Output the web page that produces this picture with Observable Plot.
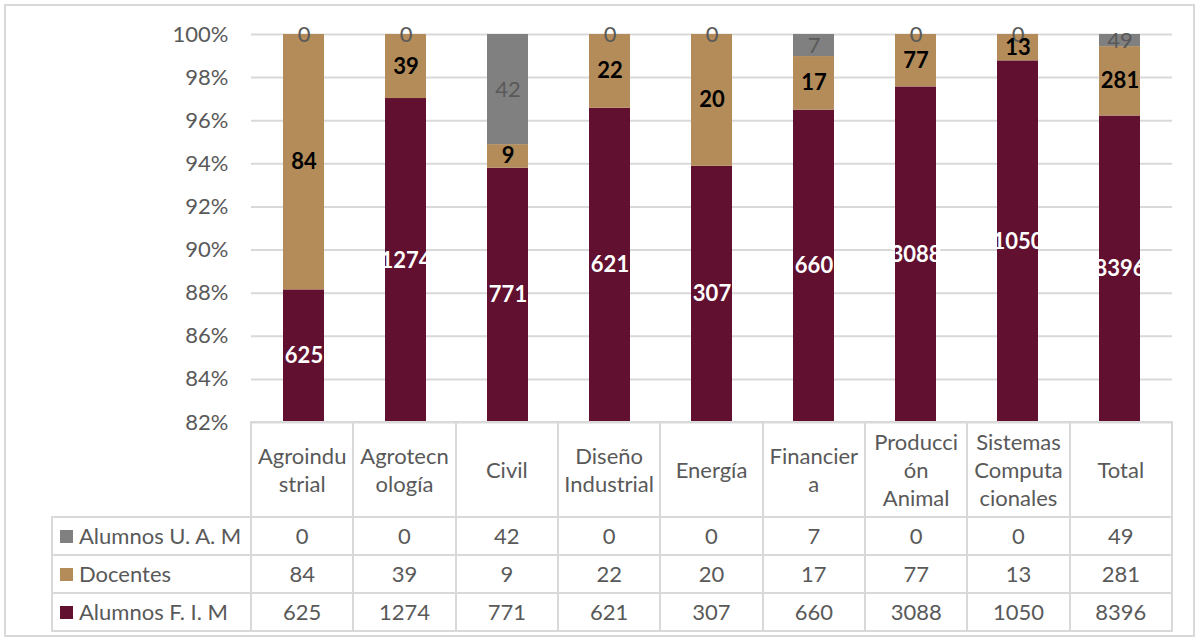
<!DOCTYPE html>
<html><head><meta charset="utf-8">
<script src="https://cdn.jsdelivr.net/npm/d3@7"></script>
<script src="https://cdn.jsdelivr.net/npm/@observablehq/plot@0.6"></script>
<style>
body{margin:0;background:#fff;font-family:Lato,"Open Sans",sans-serif;}
#wrap{position:relative;width:1199px;height:641px;overflow:hidden;background:#fff;}
#frame{position:absolute;left:4px;top:4px;width:1191px;height:633px;border:2px solid #d9d9d9;box-sizing:border-box;}
#chart{position:absolute;left:0;top:0;}
.cell{position:absolute;box-sizing:border-box;border:2px solid #d9d9d9;display:flex;align-items:center;justify-content:center;text-align:center;color:#595959;font-size:22px;line-height:28px;white-space:pre;}
.leg{justify-content:flex-start;padding-left:7px;}
.sw{display:inline-block;width:13px;height:13px;margin-right:6px;}
</style>
</head><body>
<div id="wrap"><div id="frame"></div><div id="chart"></div></div>
<script>
const categories = ["Agroindustrial","Agrotecnología","Civil","Diseño Industrial","Energía","Financiera","Producción Animal","Sistemas Computacionales","Total"];
const headerLabels = ["Agroindu\nstrial","Agrotecn\nología","Civil","Diseño\nIndustrial","Energía","Financier\na","Producci\nón\nAnimal","Sistemas\nComputa\ncionales","Total"];
const seriesNames = ["Alumnos U. A. M","Docentes","Alumnos F. I. M"];
const alumnosUAM = [0,0,42,0,0,7,0,0,49];
const docentes = [84,39,9,22,20,17,77,13,281];
const alumnosFIM = [625,1274,771,621,307,660,3088,1050,8396];
const yTicks = [0.82,0.84,0.86,0.88,0.90,0.92,0.94,0.96,0.98,1.00];
const colors = {"Alumnos U. A. M":"#808080","Docentes":"#b38c5a","Alumnos F. I. M":"#611030"};
const labelColors = {"Alumnos U. A. M":"#595959","Docentes":"#000000","Alumnos F. I. M":"#ffffff"};
const labelWeights = {"Alumnos U. A. M":"normal","Docentes":"bold","Alumnos F. I. M":"bold"};

(function(){
const yMin = yTicks[0], yMax = yTicks[yTicks.length-1];
const rows = [];
categories.forEach((c,i)=>{
  const vals = {"Alumnos F. I. M":alumnosFIM[i],"Docentes":docentes[i],"Alumnos U. A. M":alumnosUAM[i]};
  const total = alumnosFIM[i]+docentes[i]+alumnosUAM[i];
  let acc = 0;
  for (const s of ["Alumnos F. I. M","Docentes","Alumnos U. A. M"]) {
    const y1 = acc/total; acc += vals[s]; const y2 = acc/total;
    const lo = Math.max(y1,yMin);
    rows.push({cat:c, series:s, value:vals[s], y1, y2, mid:(lo+y2)/2});
  }
});

const W = 1199, pLeft = 251, pRight = 1172, pTop = 34, pBottom = 422;
const chart = Plot.plot({
  width: W, height: 440,
  marginLeft: pLeft, marginRight: W-pRight, marginTop: pTop, marginBottom: 440-pBottom,
  style:{fontFamily:"Lato, sans-serif", background:"transparent"},
  x:{domain:categories, paddingInner:0.595, paddingOuter:0.2975, axis:null},
  y:{domain:[yMin,yMax], axis:null},
  marks:[
    Plot.gridY(yTicks,{stroke:"#d9d9d9", strokeOpacity:1, strokeWidth:2}),
    Plot.axisY(yTicks,{tickFormat:d3.format(".0%"), tickSize:0, tickPadding:23, fontSize:22, fill:"#595959"}),
    Plot.barY(rows,{x:"cat", y1:"y1", y2:"y2", fill:d=>colors[d.series], clip:true}),
    ...seriesNames.map(s=>Plot.text(rows.filter(d=>d.series===s),{x:"cat", y:"mid", text:d=>String(d.value), fill:labelColors[s], fontWeight:labelWeights[s], fontSize:22}))
  ]
});
document.getElementById("chart").appendChild(chart);

const wrap = document.getElementById("wrap");
const step = (pRight-pLeft)/categories.length;
function cell(x,y,w,h,html,cls){
  const d=document.createElement("div");
  d.className="cell"+(cls?" "+cls:"");
  d.style.left=(x-1)+"px"; d.style.top=(y-1)+"px"; d.style.width=(w+2)+"px"; d.style.height=(h+2)+"px";
  d.innerHTML=html; wrap.appendChild(d);
}
const rowY=[422,517,555,593,631];
const tLeft=52;
headerLabels.forEach((t,i)=>cell(pLeft+i*step,rowY[0],step,rowY[1]-rowY[0],t));
const tableVals=[alumnosUAM,docentes,alumnosFIM];
seriesNames.forEach((s,r)=>{
  const y=rowY[r+1], h=rowY[r+2]-y;
  cell(tLeft,y,pLeft-tLeft,h,`<span class="sw" style="background:${colors[s]}"></span>${s}`,"leg");
  tableVals[r].forEach((v,i)=>cell(pLeft+i*step,y,step,h,String(v)));
});
})();
</script>
</body></html>
